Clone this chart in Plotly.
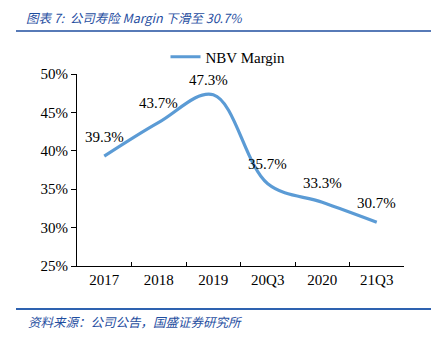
import plotly.graph_objects as go

# Chart data
periods = ["2017", "2018", "2019", "20Q3", "2020", "21Q3"]
nbv_margin = [39.3, 43.7, 47.3, 35.7, 33.3, 30.7]
label_xshift = [0, 0, -5, 0, 0, 0]
label_yshift = [19, 19, 15, 20, 19, 19]

W, H = 431, 340
L, R, T, B = 77, 27, 74, 74
PW, PH = W - L - R, H - T - B


def px_x(x):
    return (x - L) / PW


def px_y(y):
    return (H - B - y) / PH


serif = "Liberation Serif, Times New Roman, serif"
cjk = "Noto Sans CJK SC, sans-serif"
blue_dark = "#1F4E9F"
line_color = "#5B9BD5"

fig = go.Figure()
fig.add_trace(go.Scatter(
    x=list(range(len(periods))), y=nbv_margin, mode="lines", name="NBV Margin",
    line=dict(color=line_color, width=3.2, shape="spline", smoothing=1.0),
    hoverinfo="skip",
))

annotations = []
for i, (v, dx, dy) in enumerate(zip(nbv_margin, label_xshift, label_yshift)):
    annotations.append(dict(
        x=i, y=v, xref="x", yref="y", text=f"{v:.1f}%", showarrow=False,
        yshift=dy, xshift=dx, font=dict(family=serif, size=15, color="#000"),
    ))

annotations.append(dict(
    x=px_x(24), y=px_y(17), xref="paper", yref="paper", xanchor="left", yanchor="middle",
    text="<i>图表 7:  公司寿险 Margin 下滑至 30.7%</i>", showarrow=False,
    font=dict(family=cjk, size=12.5, color=blue_dark),
))
annotations.append(dict(
    x=px_x(26), y=px_y(321), xref="paper", yref="paper", xanchor="left", yanchor="middle",
    text="<i>资料来源：公司公告，国盛证券研究所</i>", showarrow=False,
    font=dict(family=cjk, size=12.5, color=blue_dark),
))

shapes = [
    dict(type="line", xref="paper", yref="paper", x0=px_x(16), x1=px_x(431),
         y0=px_y(31), y1=px_y(31), line=dict(color=blue_dark, width=1.5)),
    dict(type="line", xref="paper", yref="paper", x0=px_x(16), x1=px_x(431),
         y0=px_y(309), y1=px_y(309), line=dict(color="#2E62B0", width=2)),
]

fig.update_layout(
    width=W, height=H,
    margin=dict(l=L, r=R, t=T, b=B, autoexpand=False),
    paper_bgcolor="white", plot_bgcolor="white",
    showlegend=True,
    legend=dict(orientation="h", x=px_x(228), xanchor="center",
                y=px_y(57), yanchor="middle",
                font=dict(family=serif, size=15, color="#000"),
                itemwidth=30, bgcolor="rgba(0,0,0,0)"),
    annotations=annotations,
    shapes=shapes,
    xaxis=dict(
        range=[-0.5, 5.5], showgrid=False, zeroline=False,
        tickmode="array", tickvals=list(range(len(periods))), ticktext=periods,
        showline=True, linecolor="#000", linewidth=1,
        ticks="", tickfont=dict(family=serif, size=15, color="#000"),
        fixedrange=True,
    ),
    xaxis2=dict(
        overlaying="x", range=[-0.5, 5.5], showgrid=False, zeroline=False,
        tickmode="array", tickvals=[i + 0.5 for i in range(len(periods))],
        ticks="inside", ticklen=4, tickcolor="#000", showticklabels=False,
        anchor="y", side="bottom", fixedrange=True,
    ),
    yaxis=dict(
        range=[25, 50], dtick=5, showgrid=False, zeroline=False,
        showline=True, linecolor="#000", linewidth=1,
        ticks="outside", ticklen=5, tickcolor="#000",
        ticksuffix="%", tickformat="d",
        tickfont=dict(family=serif, size=15, color="#000"),
        fixedrange=True,
    ),
)
# invisible trace so the boundary-tick axis is drawn
fig.add_trace(go.Scatter(x=[0], y=[None], xaxis="x2", showlegend=False, hoverinfo="skip"))

fig.write_html("out.html")
